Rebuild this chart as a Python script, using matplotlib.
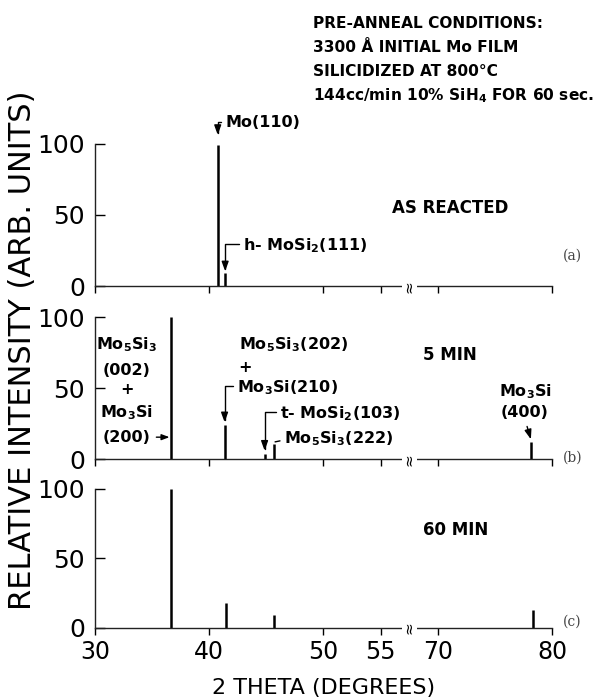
import numpy as np
import matplotlib
matplotlib.use('Agg')
import matplotlib.pyplot as plt

plt.rcParams['font.family'] = ['DejaVu Sans']
plt.rcParams['mathtext.fontset'] = 'custom'
plt.rcParams['mathtext.rm'] = 'DejaVu Sans:bold'
plt.rcParams['mathtext.default'] = 'rm'

# peak positions (2 theta, degrees) and relative intensities
pos_a = [40.75, 41.4]
hgt_a = [99, 9]
pos_b = [36.65, 41.35, 44.85, 45.65, 78.15]
hgt_b = [100, 24, 4, 11, 12]
pos_c = [36.7, 41.45, 45.7, 78.3]
hgt_c = [100, 18, 9, 13]

xticks = [30, 40, 50, 55, 70, 80]
yticks = [0, 50, 100]
break_at = 62.5


# broken x axis: 55..70 squeezed
def fwd(x):
    x = np.asarray(x, dtype=float)
    return np.where(x <= 55, x, np.where(x >= 70, x - 10, 55 + (x - 55) / 3.0))


def inv(u):
    u = np.asarray(u, dtype=float)
    return np.where(u <= 55, u, np.where(u >= 60, u + 10, 55 + (u - 55) * 3.0))


fig = plt.figure(figsize=(6.12, 7), dpi=100)
L, W = 0.155, 0.747
ax_a = fig.add_axes([L, 0.591, W, 0.204])
ax_b = fig.add_axes([L, 0.344, W, 0.203])
ax_c = fig.add_axes([L, 0.103, W, 0.199])

for ax, p, h in [(ax_a, pos_a, hgt_a), (ax_b, pos_b, hgt_b), (ax_c, pos_c, hgt_c)]:
    ax.set_xscale('function', functions=(fwd, inv))
    ax.vlines(p, 0, h, color='black', lw=1.8)
    ax.set_xlim(30, 80)
    ax.set_ylim(0, 100)
    ax.spines['top'].set_visible(False)
    ax.spines['right'].set_visible(False)
    for s in ['left', 'bottom']:
        ax.spines[s].set_linewidth(1.0)
        ax.spines[s].set_color('#222222')
    ax.set_xticks(xticks)
    ax.set_yticks(yticks)
    ax.set_yticklabels(['0', '50', '100'])
    ax.tick_params(axis='x', direction='out', length=5, width=1, labelsize=17, pad=4)
    ax.tick_params(axis='y', direction='in', length=7, width=1, labelsize=18, pad=7)
    ax.text(break_at, 0, '\u2248', rotation=90, ha='center', va='center', fontsize=11,
            transform=ax.get_xaxis_transform(),
            bbox=dict(fc='white', ec='none', pad=0))
    ax.patch.set_alpha(0)

ax_a.set_xticklabels([])
ax_b.set_xticklabels([])
ax_c.set_xticklabels([str(t) for t in xticks])
ax_c.set_xlabel('2 THETA (DEGREES)', fontsize=16, labelpad=10)
fig.text(0.036, 0.499, 'RELATIVE INTENSITY (ARB. UNITS)', rotation=90,
         ha='center', va='center', fontsize=22)

lab = dict(fontsize=11.5, fontweight='bold')
big = dict(fontsize=12, fontweight='bold')
elbow = dict(arrowstyle='-|>,head_length=0.5,head_width=0.18', lw=1, color='black',
             connectionstyle='angle,angleA=0,angleB=90,rad=0',
             relpos=(0, 0.55), shrinkA=1, shrinkB=0)

# header
head = ['PRE-ANNEAL CONDITIONS:', '3300 \u00c5 INITIAL Mo FILM',
        'SILICIDIZED AT 800\u00b0C', '144cc/min 10% SiH$_4$ FOR 60 sec.']
for i, t in enumerate(head):
    fig.text(313 / 612, 1 - (23 + 24.3 * i) / 700, t, ha='left', va='center',
             fontsize=11.1, fontweight='bold')

# panel (a)
ax_a.annotate('Mo(110)', xy=(40.75, 106), xytext=(0.285, 1.147),
              textcoords='axes fraction', ha='left', va='center',
              arrowprops=elbow, annotation_clip=False, **lab)
ax_a.annotate('h- MoSi$_2$(111)', xy=(41.4, 10.5), xytext=(0.324, 0.287),
              textcoords='axes fraction', ha='left', va='center',
              arrowprops=elbow, **lab)
ax_a.text(0.777, 0.545, 'AS REACTED', transform=ax_a.transAxes, ha='center', va='center', **big)
ax_a.text(1.024, 0.217, '(a)', transform=ax_a.transAxes, ha='left', va='center',
          fontsize=10, family='DejaVu Serif', color='#444444')

# panel (b)
for t, fy in [('Mo$_5$Si$_3$', 0.803), ('(002)', 0.627), ('+', 0.493), ('Mo$_3$Si', 0.331)]:
    ax_b.text(0.070, fy, t, transform=ax_b.transAxes, ha='center', va='center', **lab)
ax_b.annotate('(200)', xy=(36.65, 15.5), xytext=(0.070, 0.155),
              textcoords='axes fraction', ha='center', va='center',
              arrowprops=dict(arrowstyle='-|>,head_length=0.4,head_width=0.15', lw=1,
                              color='black', shrinkA=2, shrinkB=1), **lab)
ax_b.text(0.315, 0.803, 'Mo$_5$Si$_3$(202)', transform=ax_b.transAxes, ha='left', va='center', **lab)
ax_b.text(0.328, 0.648, '+', transform=ax_b.transAxes, ha='center', va='center', **lab)
ax_b.annotate('Mo$_3$Si(210)', xy=(41.35, 26), xytext=(0.311, 0.507),
              textcoords='axes fraction', ha='left', va='center',
              arrowprops=elbow, **lab)
ax_b.annotate('t- MoSi$_2$(103)', xy=(44.85, 6), xytext=(0.405, 0.324),
              textcoords='axes fraction', ha='left', va='center',
              arrowprops=elbow, **lab)
ax_b.annotate('Mo$_5$Si$_3$(222)', xy=(45.65, 12), xytext=(0.414, 0.148),
              textcoords='axes fraction', ha='left', va='center',
              arrowprops=dict(arrowstyle='-', lw=1, color='black', relpos=(0, 0.4),
                              shrinkA=1, shrinkB=1), **lab)
ax_b.text(0.777, 0.732, '5 MIN', transform=ax_b.transAxes, ha='center', va='center', **big)
ax_b.text(0.941, 0.472, 'Mo$_3$Si', transform=ax_b.transAxes, ha='center', va='center', **lab)
ax_b.annotate('(400)', xy=(78.15, 14), xytext=(0.941, 0.331),
              textcoords='axes fraction', ha='center', va='center',
              arrowprops=dict(arrowstyle='-|>,head_length=0.5,head_width=0.18', lw=1,
                              color='black', relpos=(0.5, 0), shrinkA=3, shrinkB=0), **lab)
ax_b.text(1.024, 0.014, '(b)', transform=ax_b.transAxes, ha='left', va='center',
          fontsize=10, family='DejaVu Serif', color='#444444')

# panel (c)
ax_c.text(0.79, 0.705, '60 MIN', transform=ax_c.transAxes, ha='center', va='center', **big)
ax_c.text(1.024, 0.043, '(c)', transform=ax_c.transAxes, ha='left', va='center',
          fontsize=10, family='DejaVu Serif', color='#444444')

fig.savefig('out.png', dpi=100)
